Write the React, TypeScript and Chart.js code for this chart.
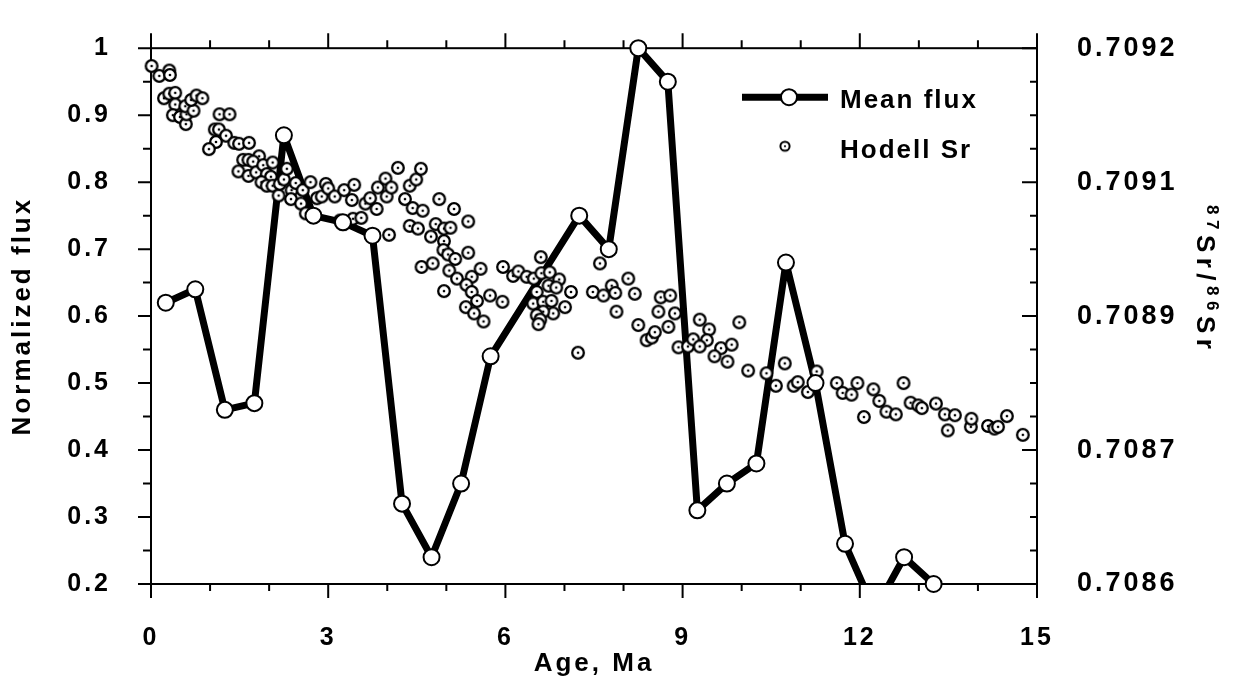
import React, { useEffect, useRef } from 'react';
import { Chart, registerables } from 'chart.js';
Chart.register(...registerables);

const FONT = '"Liberation Sans", Arial, Helvetica, sans-serif';

// Mean flux (left axis)
const meanAge = [0.25, 0.75, 1.25, 1.75, 2.25, 2.75, 3.25, 3.75, 4.25, 4.75, 5.25, 5.75, 7.25, 7.75, 8.25, 8.75, 9.25, 9.75, 10.25, 10.75, 11.25, 11.75, 12.25, 12.75, 13.25];
const meanFlux = [0.62, 0.64, 0.46, 0.47, 0.87, 0.75, 0.74, 0.72, 0.32, 0.24, 0.35, 0.54, 0.75, 0.70, 1.0, 0.95, 0.31, 0.35, 0.38, 0.68, 0.50, 0.26, 0.16, 0.24, 0.20];

// Hodell Sr (right axis)
const srAge = [
  0.01, 0.14, 0.31, 0.32, 0.22, 0.31, 0.41, 0.41, 0.37, 0.49,
  0.59, 0.60, 0.58, 0.72, 0.68, 0.77, 0.87, 1.16, 1.33, 1.08,
  1.15, 1.27, 1.10, 0.98, 1.41, 1.49, 1.66, 1.83, 1.56, 1.65,
  1.73, 1.48, 1.65, 1.78, 1.90, 2.06, 1.96, 2.03, 1.87, 1.96,
  2.06, 2.16, 2.18, 2.25, 2.30, 2.38, 2.37, 2.45, 2.54, 2.57,
  2.62, 2.70, 2.81, 2.89, 2.96, 3.00, 3.11, 3.20, 3.26, 3.27,
  3.40, 3.44, 3.42, 3.56, 3.63, 3.71, 3.82, 3.84, 3.97, 3.99,
  4.07, 4.03, 4.18, 4.30, 4.38, 4.49, 4.57, 4.38, 4.43, 4.52,
  4.60, 4.58, 4.77, 4.74, 4.82, 4.88, 4.96, 4.96, 4.95, 5.07,
  5.13, 5.05, 5.18, 5.03, 5.15, 4.96, 5.37, 5.37, 5.43, 5.58,
  5.34, 5.43, 5.52, 5.74, 5.33, 5.47, 5.63, 5.95, 5.96, 6.13,
  6.22, 6.36, 6.48, 6.60, 6.61, 6.75, 6.91, 6.73, 6.53, 6.86,
  6.47, 6.64, 6.78, 7.01, 6.81, 6.64, 6.53, 6.59, 6.56, 7.11,
  7.23, 7.60, 7.48, 7.66, 7.80, 7.86, 7.88, 8.08, 8.19, 8.25,
  8.39, 8.48, 8.53, 8.59, 8.76, 8.63, 8.79, 8.87, 8.93, 9.09,
  9.18, 9.29, 9.45, 9.41, 9.29, 9.65, 9.83, 9.96, 9.54, 9.76,
  10.11, 10.42, 10.58, 10.73, 10.88, 10.95, 11.12, 11.27, 11.61, 11.71,
  11.86, 11.96, 12.07, 12.23, 12.33, 12.45, 12.61, 12.74, 12.86, 12.99,
  13.05, 13.29, 13.44, 13.61, 13.49, 13.88, 13.89, 14.17, 14.28, 14.34,
  14.49, 14.76,
];
const srRatio = [
  0.709180, 0.709169, 0.709175, 0.709170, 0.709144, 0.709149, 0.709150, 0.709137, 0.709125, 0.709123,
  0.709115, 0.709126, 0.709135, 0.709130, 0.709142, 0.709147, 0.709144, 0.709126, 0.709126, 0.709109,
  0.709109, 0.709102, 0.709095, 0.709087, 0.709094, 0.709093, 0.709094, 0.709079, 0.709075, 0.709075,
  0.709073, 0.709062, 0.709057, 0.709061, 0.709069, 0.709072, 0.709059, 0.709056, 0.709050, 0.709046,
  0.709046, 0.709035, 0.709048, 0.709053, 0.709065, 0.709041, 0.709031, 0.709049, 0.709026, 0.709041,
  0.709015, 0.709050, 0.709032, 0.709034, 0.709048, 0.709043, 0.709034, 0.709007, 0.709003, 0.709041,
  0.709030, 0.709047, 0.709009, 0.709010, 0.709026, 0.709032, 0.709020, 0.709044, 0.709054, 0.709034,
  0.709044, 0.708991, 0.709066, 0.709031, 0.709046, 0.709053, 0.709065, 0.709001, 0.709021, 0.708998,
  0.709018, 0.708955, 0.708959, 0.708989, 0.709003, 0.709031, 0.708984, 0.708998, 0.708974, 0.708999,
  0.709020, 0.708951, 0.708942, 0.708969, 0.708964, 0.708928, 0.709006, 0.708971, 0.708944, 0.708953,
  0.708935, 0.708927, 0.708917, 0.708923, 0.708910, 0.708903, 0.708894, 0.708916, 0.708955, 0.708945,
  0.708950, 0.708944, 0.708942, 0.708966, 0.708948, 0.708949, 0.708941, 0.708934, 0.708927, 0.708932,
  0.708914, 0.708916, 0.708917, 0.708910, 0.708903, 0.708905, 0.708901, 0.708896, 0.708891, 0.708927,
  0.708859, 0.708959, 0.708927, 0.708923, 0.708934, 0.708926, 0.708905, 0.708942, 0.708925, 0.708890,
  0.708873, 0.708876, 0.708882, 0.708905, 0.708888, 0.708921, 0.708923, 0.708903, 0.708865, 0.708866,
  0.708874, 0.708896, 0.708885, 0.708873, 0.708866, 0.708864, 0.708868, 0.708893, 0.708855, 0.708849,
  0.708839, 0.708836, 0.708822, 0.708847, 0.708822, 0.708826, 0.708815, 0.708838, 0.708825, 0.708814,
  0.708812, 0.708825, 0.708787, 0.708818, 0.708805, 0.708793, 0.708790, 0.708825, 0.708803, 0.708800,
  0.708797, 0.708802, 0.708790, 0.708789, 0.708772, 0.708776, 0.708785, 0.708777, 0.708774, 0.708776,
  0.708788, 0.708767,
];

// Axes
const xMin = 0, xMax = 15;
const xTickValues = [0, 3, 6, 9, 12, 15];
const xTickLabels = ['0', '3', '6', '9', '12', '15'];
const yMin = 0.2, yMax = 1;
const yTickValues = [0.2, 0.3, 0.4, 0.5, 0.6, 0.7, 0.8, 0.9, 1.0];
const yTickLabels = ['0.2', '0.3', '0.4', '0.5', '0.6', '0.7', '0.8', '0.9', '1'];
const rMin = 0.7086, rMax = 0.7092;
const rTickValues = [0.7086, 0.70875, 0.7089, 0.70905, 0.7092];
const rTickLabels = ['0.7086', '0.7087', '0.7089', '0.7091', '0.7092'];

const xTitle = 'Age, Ma';
const yTitle = 'Normalized flux';
const rTitleParts: [string, boolean][] = [['87', true], ['Sr/', false], ['86', true], ['Sr', false]];
const legendMean = 'Mean flux';
const legendSr = 'Hodell Sr';

function makeSrMarker(r: number, lw: number, dot: number) {
  const c = document.createElement('canvas');
  const s = Math.ceil(2 * (r + lw)) + 2;
  const size = s % 2 === 0 ? s : s + 1;
  c.width = size; c.height = size;
  const g = c.getContext('2d')!;
  g.beginPath(); g.arc(size / 2, size / 2, r, 0, Math.PI * 2);
  g.fillStyle = '#fff'; g.fill();
  g.lineWidth = lw; g.strokeStyle = '#000'; g.stroke();
  g.beginPath(); g.arc(size / 2, size / 2, dot, 0, Math.PI * 2);
  g.fillStyle = '#000'; g.fill();
  return c;
}

export default function App() {
  const ref = useRef<HTMLCanvasElement>(null);
  useEffect(() => {
    const canvas = ref.current!;
    const srMarker = makeSrMarker(5.8, 2.3, 1.3);
    const srLegendMarker = makeSrMarker(4.6, 2, 1.1);
    const meanPts = meanAge.map((a, i) => ({ x: a, y: meanFlux[i] }));
    const srPts = srAge.map((a, i) => ({ x: a, y: srRatio[i] }));

    const spacingPlugin = {
      id: 'spacing',
      beforeUpdate(chart: any) { chart.ctx.letterSpacing = '3px'; },
      beforeDraw(chart: any) { chart.ctx.letterSpacing = '3px'; },
    };

    const framePlugin = {
      id: 'frame',
      beforeDatasetsDraw(chart: any) {
        const { ctx, chartArea: a, scales } = chart;
        ctx.save();
        ctx.strokeStyle = '#000';
        ctx.lineWidth = 2;
        ctx.beginPath();
        for (let v = xMin; v <= xMax; v++) {
          const px = scales.x.getPixelForValue(v);
          const major = v % 3 === 0;
          ctx.moveTo(px, a.bottom); ctx.lineTo(px, a.bottom + (major ? 14 : 7));
          ctx.moveTo(px, a.top); ctx.lineTo(px, a.top - (major ? 15 : 8));
        }
        for (let i = 0; i <= 16; i++) {
          const py = scales.y.getPixelForValue(yMin + (i * (yMax - yMin)) / 16);
          ctx.moveTo(a.left, py); ctx.lineTo(a.left - (i % 2 === 0 ? 13 : 8), py);
        }
        for (let i = 0; i <= 16; i++) {
          const py = scales.y1.getPixelForValue(rMin + (i * (rMax - rMin)) / 16);
          ctx.moveTo(a.right, py); ctx.lineTo(a.right - (i % 4 === 0 ? 15 : 7), py);
        }
        ctx.stroke();
        ctx.strokeRect(a.left, a.top, a.right - a.left, a.bottom - a.top);
        ctx.restore();
      },
    };

    const overlayPlugin = {
      id: 'overlay',
      afterDraw(chart: any) {
        const { ctx, chartArea: a } = chart;
        ctx.save();
        // legend: Mean flux
        const ly1 = a.top + 49;
        ctx.strokeStyle = '#000';
        ctx.lineWidth = 7;
        ctx.beginPath(); ctx.moveTo(a.right - 295, ly1); ctx.lineTo(a.right - 209, ly1); ctx.stroke();
        ctx.beginPath(); ctx.arc(a.right - 248, ly1, 8, 0, Math.PI * 2);
        ctx.fillStyle = '#fff'; ctx.fill(); ctx.lineWidth = 2; ctx.stroke();
        ctx.fillStyle = '#000';
        ctx.font = `bold 26px ${FONT}`;
        ctx.letterSpacing = '2px';
        ctx.textAlign = 'left';
        ctx.textBaseline = 'alphabetic';
        ctx.fillText(legendMean, a.right - 197, a.top + 60);
        // legend: Hodell Sr
        const ly2 = a.top + 98;
        ctx.drawImage(srLegendMarker, a.right - 252 - srLegendMarker.width / 2, ly2 - srLegendMarker.height / 2);
        ctx.fillText(legendSr, a.right - 197, a.top + 110);
        // right axis title (rotated)
        ctx.translate(a.right + 160, 205);
        ctx.rotate(Math.PI / 2);
        ctx.letterSpacing = '5.5px';
        let cx = 0;
        for (const [t, sup] of rTitleParts) {
          ctx.font = sup ? `bold 17px ${FONT}` : `bold 26px ${FONT}`;
          ctx.fillText(t, cx, sup ? -10 : 0);
          cx += ctx.measureText(t).width;
        }
        ctx.restore();
      },
    };

    const chart = new Chart(canvas, {
      type: 'scatter',
      data: {
        datasets: [
          {
            label: legendMean,
            data: meanPts,
            showLine: false,
            pointRadius: 8,
            pointBorderWidth: 2,
            pointBackgroundColor: '#fff',
            pointBorderColor: '#000',
            clip: false as any,
            order: 0,
            xAxisID: 'x',
            yAxisID: 'y',
          },
          {
            label: legendSr,
            data: srPts,
            showLine: false,
            pointStyle: srMarker as any,
            pointRadius: 7,
            clip: false as any,
            order: 1,
            xAxisID: 'x',
            yAxisID: 'y1',
          },
          {
            label: legendMean + ' line',
            data: meanPts,
            showLine: true,
            borderColor: '#000',
            borderWidth: 7,
            borderJoinStyle: 'round',
            pointRadius: 0,
            clip: 0 as any,
            order: 2,
            xAxisID: 'x',
            yAxisID: 'y',
          },
        ],
      },
      options: {
        responsive: true,
        maintainAspectRatio: false,
        animation: false,
        layout: { padding: { top: 25, left: 0, right: 0, bottom: 0 } },
        plugins: { legend: { display: false }, tooltip: { enabled: false } },
        scales: {
          x: {
            type: 'linear', position: 'bottom', min: xMin, max: xMax,
            grid: { display: false }, border: { display: false },
            afterBuildTicks: (s: any) => { s.ticks = xTickValues.map((v) => ({ value: v })); },
            ticks: {
              autoSkip: false, maxRotation: 0, padding: 31, color: '#000',
              font: { family: FONT, size: 25, weight: 'bold' },
              callback: (_v: any, i: number) => xTickLabels[i],
            },
            title: { display: true, text: xTitle, color: '#000', font: { family: FONT, size: 26, weight: 'bold' }, padding: { top: 0, bottom: 0 } },
            afterFit: (s: any) => { s.height = 95; },
          },
          y: {
            type: 'linear', position: 'left', min: yMin, max: yMax,
            grid: { display: false }, border: { display: false },
            afterBuildTicks: (s: any) => { s.ticks = yTickValues.map((v) => ({ value: v })); },
            ticks: {
              autoSkip: false, padding: 32, color: '#000',
              font: { family: FONT, size: 25, weight: 'bold' },
              callback: (_v: any, i: number) => yTickLabels[i],
            },
            title: { display: true, text: yTitle, color: '#000', font: { family: FONT, size: 26, weight: 'bold' }, padding: { top: 7, bottom: 0 } },
            afterFit: (s: any) => { s.width = 151; },
          },
          y1: {
            type: 'linear', position: 'right', min: rMin, max: rMax,
            grid: { display: false }, border: { display: false },
            afterBuildTicks: (s: any) => { s.ticks = rTickValues.map((v) => ({ value: v })); },
            ticks: {
              autoSkip: false, padding: 32, color: '#000',
              font: { family: FONT, size: 27, weight: 'bold' },
              callback: (_v: any, i: number) => rTickLabels[i],
            },
            afterFit: (s: any) => { s.width = 204; },
          },
        },
      },
      plugins: [spacingPlugin, framePlugin, overlayPlugin],
    } as any);
    return () => chart.destroy();
  }, []);
  return (
    <div style={{ position: 'fixed', left: 0, top: 0, width: 1241, height: 679, background: '#fff' }}>
      <canvas ref={ref} />
    </div>
  );
}
